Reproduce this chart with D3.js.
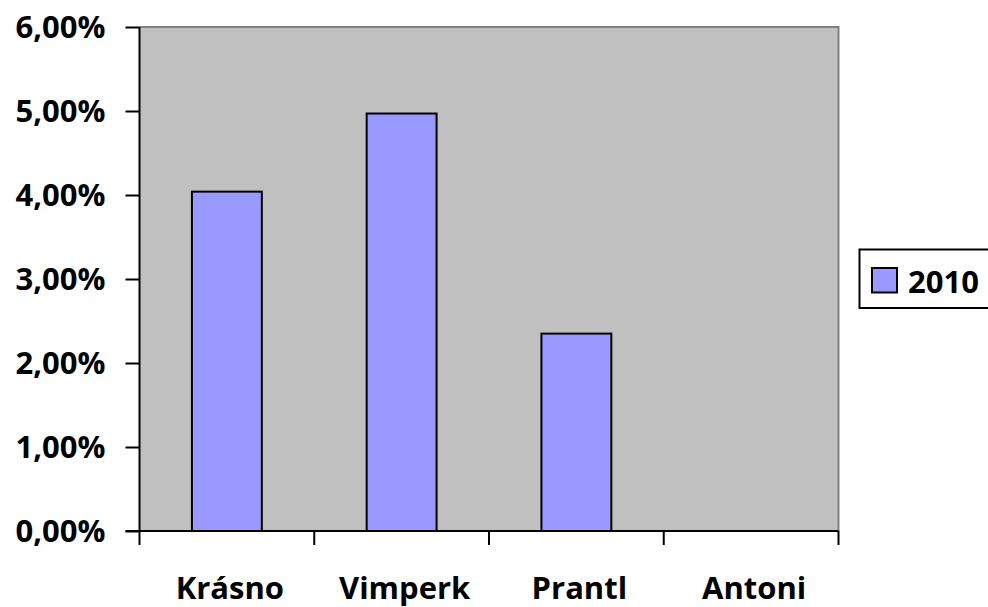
<!DOCTYPE html>
<html>
<head>
<meta charset="utf-8">
<script src="https://cdn.jsdelivr.net/npm/d3@7/dist/d3.min.js"></script>
<style>
  html, body { margin: 0; padding: 0; background: #fff; }
  svg { display: block; }
  text { font-family: "Open Sans", "Noto Sans", sans-serif; font-weight: bold; fill: #000; }
</style>
</head>
<body>
<svg id="chart" width="988" height="607"></svg>
<script>
// Share of each town, year 2010 (percent)
const categories = ["Krásno", "Vimperk", "Prantl", "Antoni"];
const values2010 = [4.04, 4.97, 2.35, 0];
const seriesName = "2010";
const yTicks = [0, 1, 2, 3, 4, 5, 6];

const svg = d3.select("#chart");
const plot = { left: 139.5, right: 838.5, top: 27, bottom: 531 };

const x = d3.scaleBand().domain(categories).range([plot.left, plot.right]).padding(0);
const y = d3.scaleLinear().domain([0, 6]).range([plot.bottom, plot.top]);

// plot area background
svg.append("rect")
  .attr("x", plot.left).attr("y", plot.top)
  .attr("width", plot.right - plot.left).attr("height", plot.bottom - plot.top)
  .attr("fill", "#c0c0c0");
// top and right frame
svg.append("path")
  .attr("d", `M${plot.left},${plot.top}H${plot.right}V${plot.bottom}`)
  .attr("fill", "none").attr("stroke", "#808080").attr("stroke-width", 2);

// bars
const barFrac = 0.4;
svg.append("g").selectAll("rect")
  .data(categories.map((c, i) => ({ c, v: values2010[i] })).filter(d => d.v > 0))
  .join("rect")
  .attr("x", d => x(d.c) + x.bandwidth() * (1 - barFrac) / 2)
  .attr("width", x.bandwidth() * barFrac)
  .attr("y", d => y(d.v))
  .attr("height", d => y(0) - y(d.v))
  .attr("fill", "#9999ff")
  .attr("stroke", "#000").attr("stroke-width", 2);

// y axis
const fmt = d => d3.format(".2f")(d).replace(".", ",") + "%";
const yAxis = svg.append("g")
  .attr("transform", `translate(${plot.left},0)`)
  .call(d3.axisLeft(y).tickValues(yTicks).tickFormat(fmt).tickSize(14).tickPadding(20));
yAxis.select(".domain").attr("stroke", "#000").attr("stroke-width", 2)
  .attr("d", `M0,${plot.top}V${plot.bottom}`);
yAxis.selectAll(".tick line").attr("stroke", "#000").attr("stroke-width", 2);
yAxis.selectAll(".tick text").style("font-size", "31px").attr("dy", "0.35em")
  .style("font-family", "'Open Sans', sans-serif").style("font-weight", "bold");

// x axis: line, boundary ticks, centred labels
const xg = svg.append("g");
xg.append("line")
  .attr("x1", plot.left - 14).attr("x2", plot.right)
  .attr("y1", plot.bottom).attr("y2", plot.bottom)
  .attr("stroke", "#000").attr("stroke-width", 2);
const bounds = categories.map(c => x(c)).concat([x.range()[1]]);
xg.selectAll("line.tk").data(bounds).join("line").attr("class", "tk")
  .attr("x1", d => d).attr("x2", d => d)
  .attr("y1", plot.bottom).attr("y2", plot.bottom + 14)
  .attr("stroke", "#000").attr("stroke-width", 2);
xg.selectAll("text").data(categories).join("text")
  .attr("x", d => x(d) + x.bandwidth() / 2 + 3)
  .attr("y", 599)
  .attr("text-anchor", "middle")
  .style("font-size", "31px")
  .text(d => d);

// legend
const lg = svg.append("g");
lg.append("rect")
  .attr("x", 859.5).attr("y", 249.5).attr("width", 160).attr("height", 58.5)
  .attr("fill", "#fff").attr("stroke", "#000").attr("stroke-width", 2);
lg.append("rect")
  .attr("x", 872).attr("y", 268).attr("width", 25).attr("height", 24.5)
  .attr("fill", "#9999ff").attr("stroke", "#000").attr("stroke-width", 2);
lg.append("text")
  .attr("x", 908).attr("y", 293)
  .style("font-size", "31px")
  .text(seriesName);
</script>
</body>
</html>
